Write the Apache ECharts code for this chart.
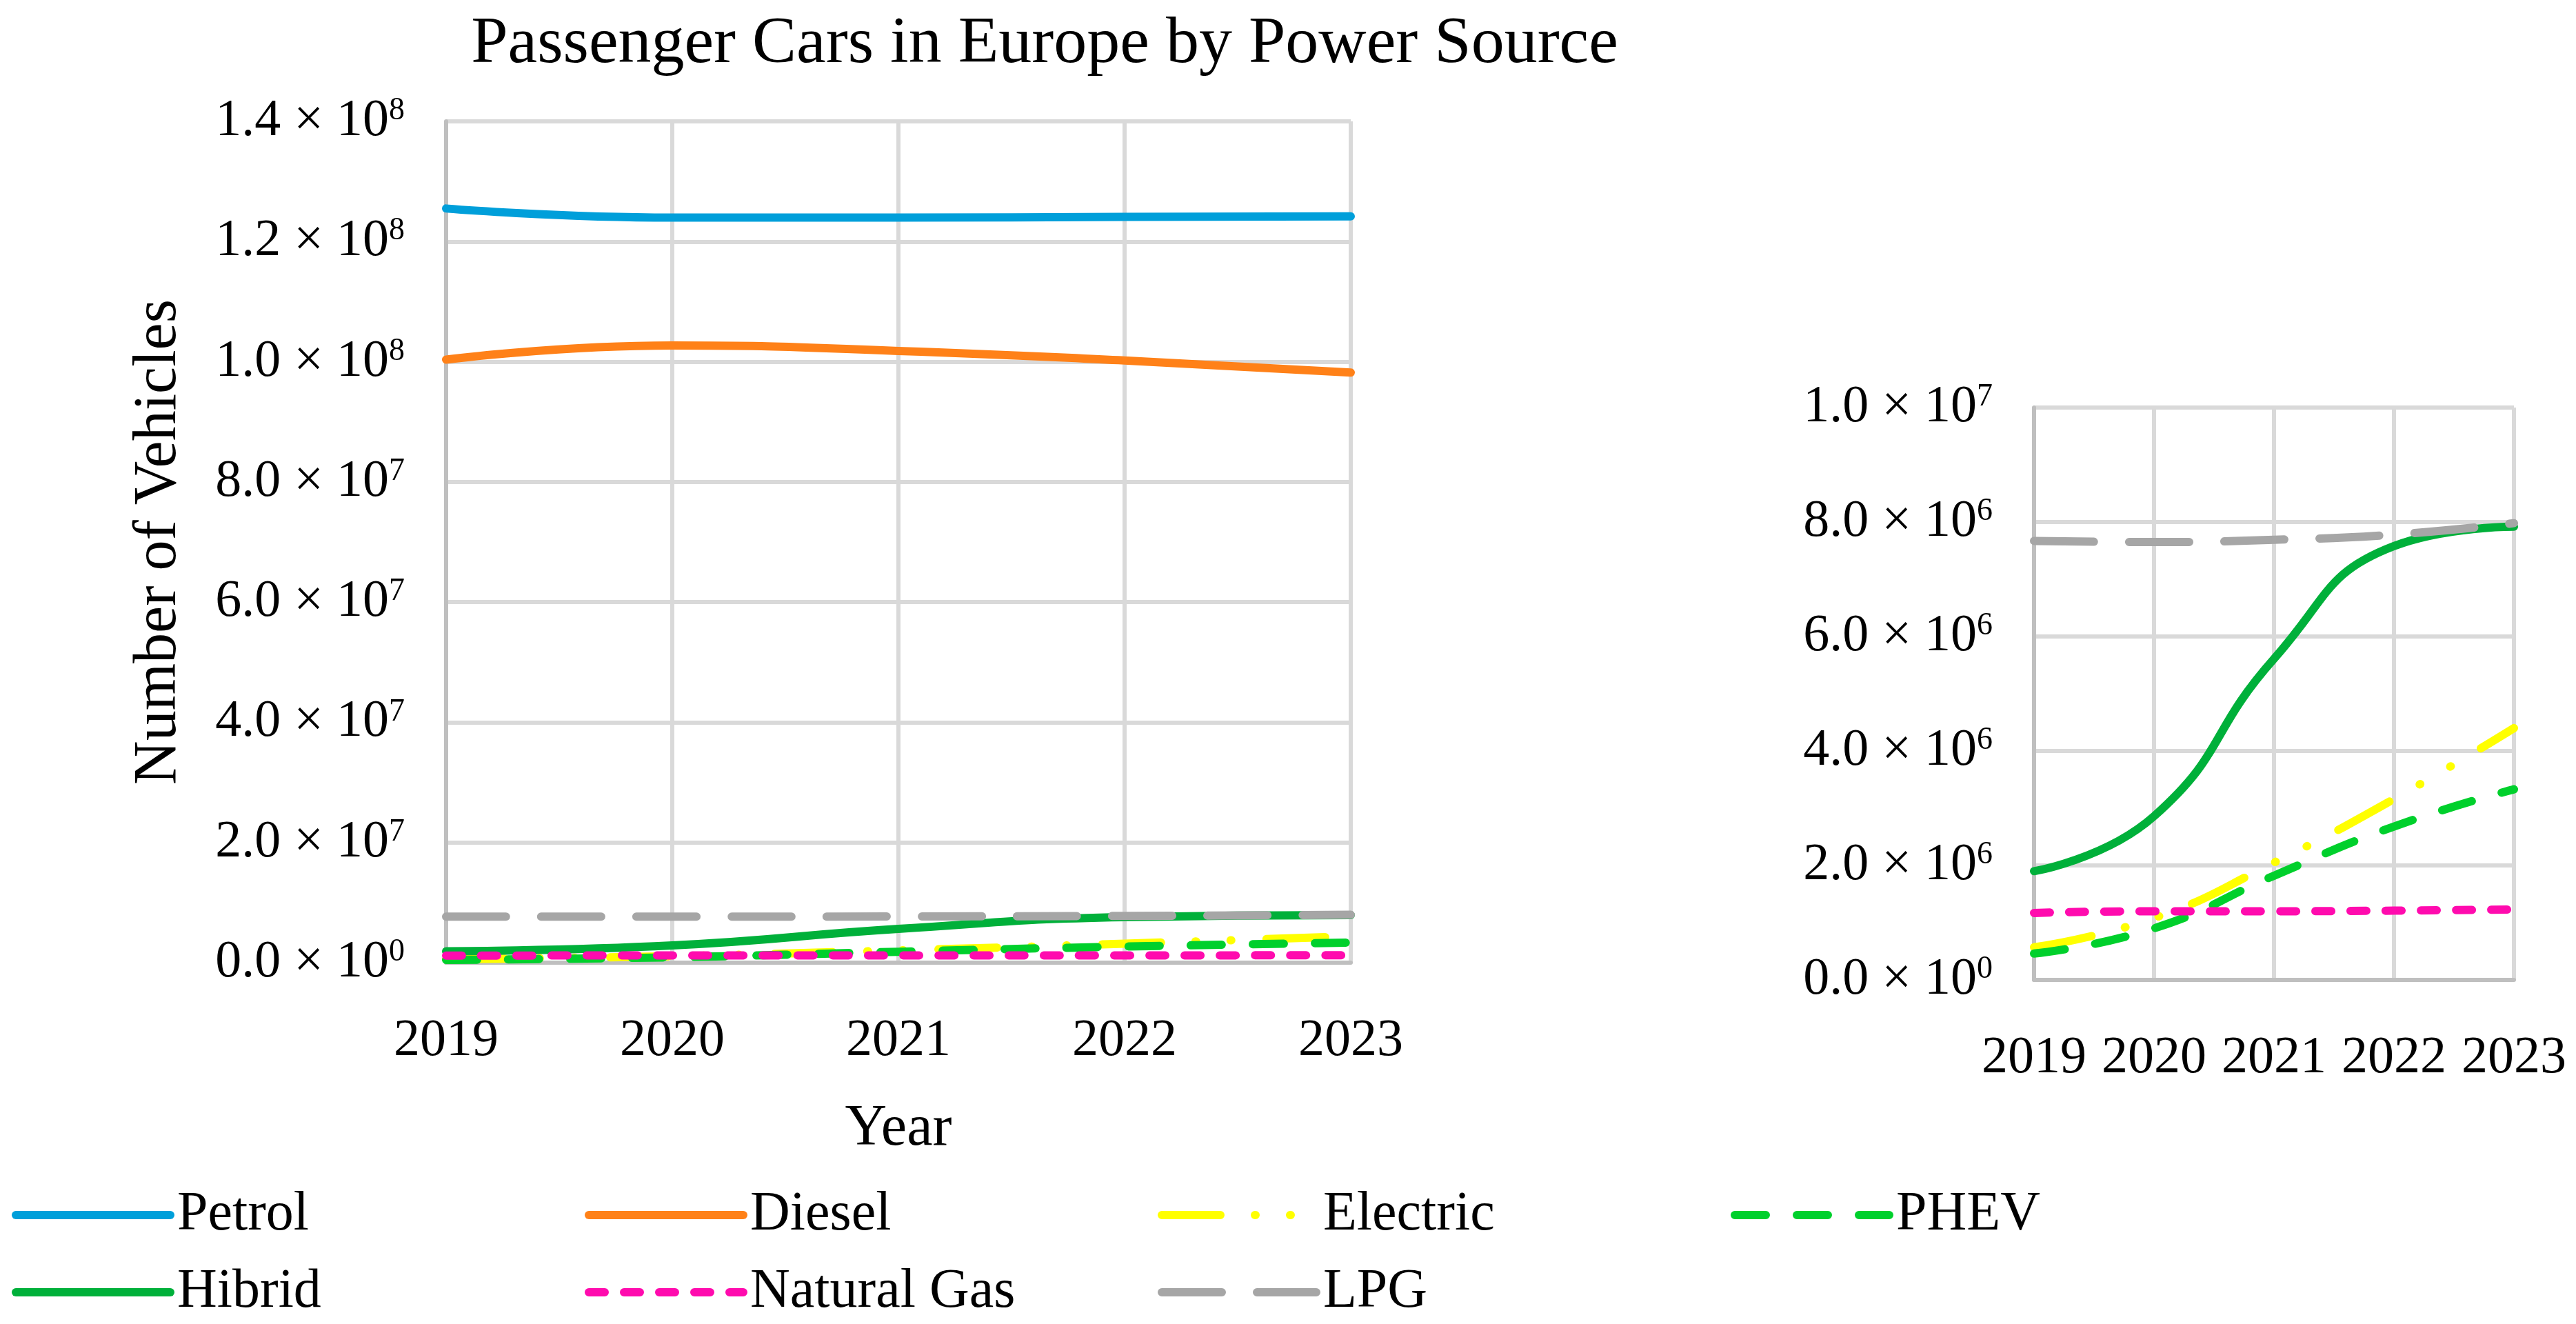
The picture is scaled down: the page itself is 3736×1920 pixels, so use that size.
<!DOCTYPE html>
<html>
<head>
<meta charset="utf-8">
<script src="https://cdn.jsdelivr.net/npm/echarts@6/dist/echarts.min.js"></script>
<style>
html,body{margin:0;padding:0;background:#fff;}
#c{width:3736px;height:1920px;}
</style>
</head>
<body>
<div id="c"></div>
<script>
// ---- data ----
const years = ['2019', '2020', '2021', '2022', '2023'];
const petrol = [1.255e8, 1.240e8, 1.240e8, 1.241e8, 1.242e8];
const diesel = [1.0035e8, 1.027e8, 1.018e8, 1.002e8, 0.982e8];
const electric = [5.7e5, 1.08e6, 2.05e6, 3.16e6, 4.4e6];
const phev = [4.6e5, 9.0e5, 1.82e6, 2.68e6, 3.33e6];
const hibrid = [1.90e6, 2.86e6, 5.61e6, 7.58e6, 7.92e6];
const naturalGas = [1.17e6, 1.20e6, 1.20e6, 1.21e6, 1.23e6];
const lpg = [7.67e6, 7.65e6, 7.69e6, 7.78e6, 7.98e6];

const seriesNames = ['Petrol', 'Diesel', 'Electric', 'PHEV', 'Hibrid', 'Natural Gas', 'LPG'];
const FONT = 'Liberation Serif';
const LW = 12;

const styles = {
  'Petrol': {color: '#009FDA', type: 'solid'},
  'Diesel': {color: '#FF8118', type: 'solid'},
  'Electric': {color: '#FFFF00', type: [85, 50, 1, 50, 1, 51]},
  'PHEV': {color: '#00D02C', type: [45, 45]},
  'Hibrid': {color: '#00B03A', type: 'solid'},
  'Natural Gas': {color: '#FF0BAE', type: [23, 28]},
  'LPG': {color: '#A6A6A6', type: [87, 51]}
};
const dataByName = {
  'Petrol': petrol, 'Diesel': diesel, 'Electric': electric, 'PHEV': phev,
  'Hibrid': hibrid, 'Natural Gas': naturalGas, 'LPG': lpg
};

function sciLabel(v) {
  let e = 0, m = 0;
  if (v !== 0) {
    e = Math.floor(Math.log10(Math.abs(v)) + 1e-9);
    m = v / Math.pow(10, e);
  }
  return '{m|' + m.toFixed(1) + ' \u00d7 10}{s|' + e + '}';
}
const richLab = {
  m: {fontFamily: FONT, fontSize: 76, color: '#000'},
  s: {fontFamily: FONT, fontSize: 46, color: '#000', verticalAlign: 'top'}
};

function mkSeries(name, idx) {
  const st = styles[name];
  return {
    name: name, type: 'line', xAxisIndex: idx, yAxisIndex: idx,
    data: dataByName[name], smooth: 0.5, symbol: 'none', showSymbol: false,
    lineStyle: {color: st.color, width: LW, type: st.type, cap: 'round', join: 'round'},
    itemStyle: {color: st.color},
    emphasis: {disabled: true}, animation: false
  };
}

const series = [];
seriesNames.forEach(n => series.push(mkSeries(n, 0)));
['Electric', 'PHEV', 'Hibrid', 'Natural Gas', 'LPG'].forEach(n => series.push(mkSeries(n, 1)));

function xAx(idx) {
  return {
    type: 'category', gridIndex: idx, data: years, boundaryGap: false,
    axisLine: {show: true, lineStyle: {color: '#BFBFBF', width: 6}},
    axisTick: {show: false},
    axisLabel: {fontFamily: FONT, fontSize: 76, color: '#000', margin: 76, interval: 0, hideOverlap: false},
    splitLine: {show: true, interval: 0, lineStyle: {color: '#D9D9D9', width: 6}}
  };
}
function yAx(idx, max, interval) {
  return {
    type: 'value', gridIndex: idx, min: 0, max: max, interval: interval,
    axisLine: {show: true, lineStyle: {color: '#BFBFBF', width: 6}},
    axisTick: {show: false},
    axisLabel: {formatter: sciLabel, rich: richLab, margin: 60, align: 'right'},
    splitLine: {show: true, lineStyle: {color: '#D9D9D9', width: 6}}
  };
}

const xa0 = xAx(0);
xa0.name = 'Year';
xa0.nameLocation = 'middle';
xa0.nameGap = 200;
xa0.nameTextStyle = {fontFamily: FONT, fontSize: 84, color: '#000'};
const ya0 = yAx(0, 1.4e8, 2e7);
ya0.name = 'Number of Vehicles';
ya0.nameLocation = 'middle';
ya0.nameRotate = 90;
ya0.nameGap = 372;
ya0.nameTextStyle = {fontFamily: FONT, fontSize: 88, color: '#000'};

function legendRow(names, top) {
  return {
    data: names, left: 12, top: top, orient: 'horizontal',
    itemWidth: 224, itemHeight: LW, itemGap: 0,
    lineStyle: {width: LW, cap: 'round', type: 'inherit', color: 'inherit'},
    itemStyle: {opacity: 0, borderWidth: 0},
    textStyle: {fontFamily: FONT, fontSize: 80, color: '#000', width: 591, padding: [0, 0, 0, 5], lineHeight: 90},
    selectedMode: false
  };
}

const option = {
  backgroundColor: '#fff',
  animation: false,
  title: {
    text: 'Passenger Cars in Europe by Power Source',
    left: 1510, top: 12, textAlign: 'center',
    textStyle: {fontFamily: FONT, fontSize: 96, fontWeight: 'normal', color: '#000'}
  },
  legend: [
    legendRow(['Petrol', 'Diesel', 'Electric', 'PHEV'], 1712),
    legendRow(['Hibrid', 'Natural Gas', 'LPG'], 1824)
  ],
  grid: [
    {left: 647, right: 1777, top: 176, bottom: 524, containLabel: false},
    {left: 2950, right: 90, top: 591, bottom: 499, containLabel: false}
  ],
  xAxis: [xa0, xAx(1)],
  yAxis: [ya0, yAx(1, 1e7, 2e6)],
  series: series
};

const chart = echarts.init(document.getElementById('c'), null, {renderer: 'canvas'});
chart.setOption(option);
</script>
</body>
</html>
